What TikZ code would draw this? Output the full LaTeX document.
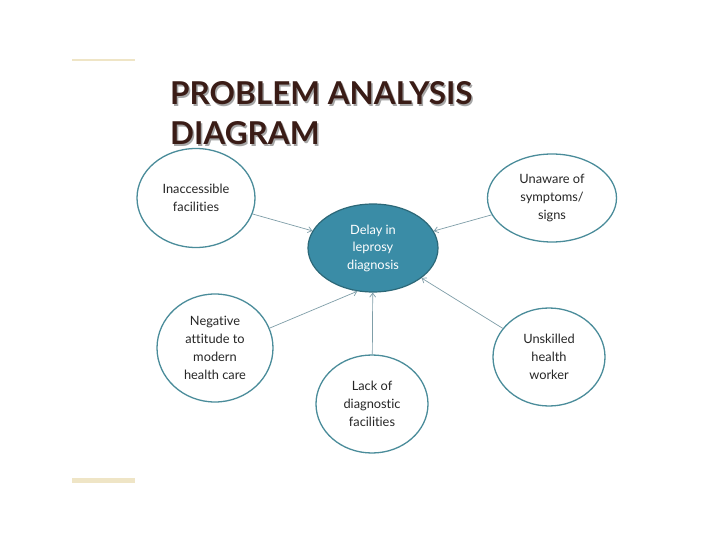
\documentclass[tikz,border=0pt]{standalone}
\usepackage{fontspec}
\setmainfont{Lato}[Ligatures={NoCommon}]
\usetikzlibrary{shapes.geometric,arrows.meta}
\definecolor{ringc}{HTML}{4A8C9A}
\definecolor{hubfill}{HTML}{3A8CA6}
\definecolor{hubline}{HTML}{2C6878}
\definecolor{arrc}{HTML}{7F9EA8}
\definecolor{titlec}{HTML}{3A1C16}
\definecolor{barc}{HTML}{EFE5C6}
\tikzset{
  ring/.style={ellipse, draw=ringc, line width=1.3pt, fill=white, inner sep=0pt, align=center,
    font=\fontsize{12.8}{18}\selectfont, text=black!85},
  hub/.style={ellipse, draw=hubline, line width=1.2pt, fill=hubfill, inner sep=0pt, align=center,
    font=\fontsize{12.8}{17.5}\selectfont, text=white},
  link/.style={draw=arrc, line width=0.7pt, -{Straight Barb[length=4pt,width=6pt]}},
  ttl/.style={anchor=base west, font=\bfseries\fontsize{31.5}{40}\selectfont, inner sep=0pt}
}
\begin{document}
\begin{tikzpicture}[x=1pt,y=-1pt]
\useasboundingbox (0,0) rectangle (720,540);
\fill[white] (0,0) rectangle (720,540);
% side bars
\fill[barc] (72,59.5) rectangle (135,61.5);
\fill[barc] (72,478) rectangle (135,483);
% title
\node[ttl, text=black!35] (t1s) at (171.5,106.5) {PROBLEM ANALYSIS};
\node[ttl, text=titlec] (t1) at (170,105) {PROBLEM ANALYSIS};
\node[ttl, text=black!35] (t2s) at (171.5,146.5) {DIAGRAM};
\node[ttl, text=titlec] (t2) at (170,145) {DIAGRAM};
% nodes
\node[hub, minimum width=130pt, minimum height=88pt] (hub) at (373,248) {Delay in\\leprosy\\diagnosis};
\node[ring, minimum width=118pt, minimum height=99pt] (acc) at (196,198) {Inaccessible\\facilities};
\node[ring, minimum width=129pt, minimum height=88pt] (una) at (552,198) {Unaware of\\symptoms/\\signs};
\node[ring, minimum width=116pt, minimum height=108pt] (neg) at (215,348) {Negative\\attitude to\\modern\\health care};
\node[ring, minimum width=112pt, minimum height=98pt] (lack) at (372,404) {Lack of\\diagnostic\\facilities};
\node[ring, minimum width=112pt, minimum height=98pt] (unsk) at (549,357) {Unskilled\\health\\worker};
% links
\draw[link] (acc) -- (hub);
\draw[link] (una) -- (hub);
\draw[link] (neg.20) -- (hub.250);
\draw[link] (lack) -- (hub);
\draw[link] (unsk) -- (hub);
\end{tikzpicture}
\end{document}
